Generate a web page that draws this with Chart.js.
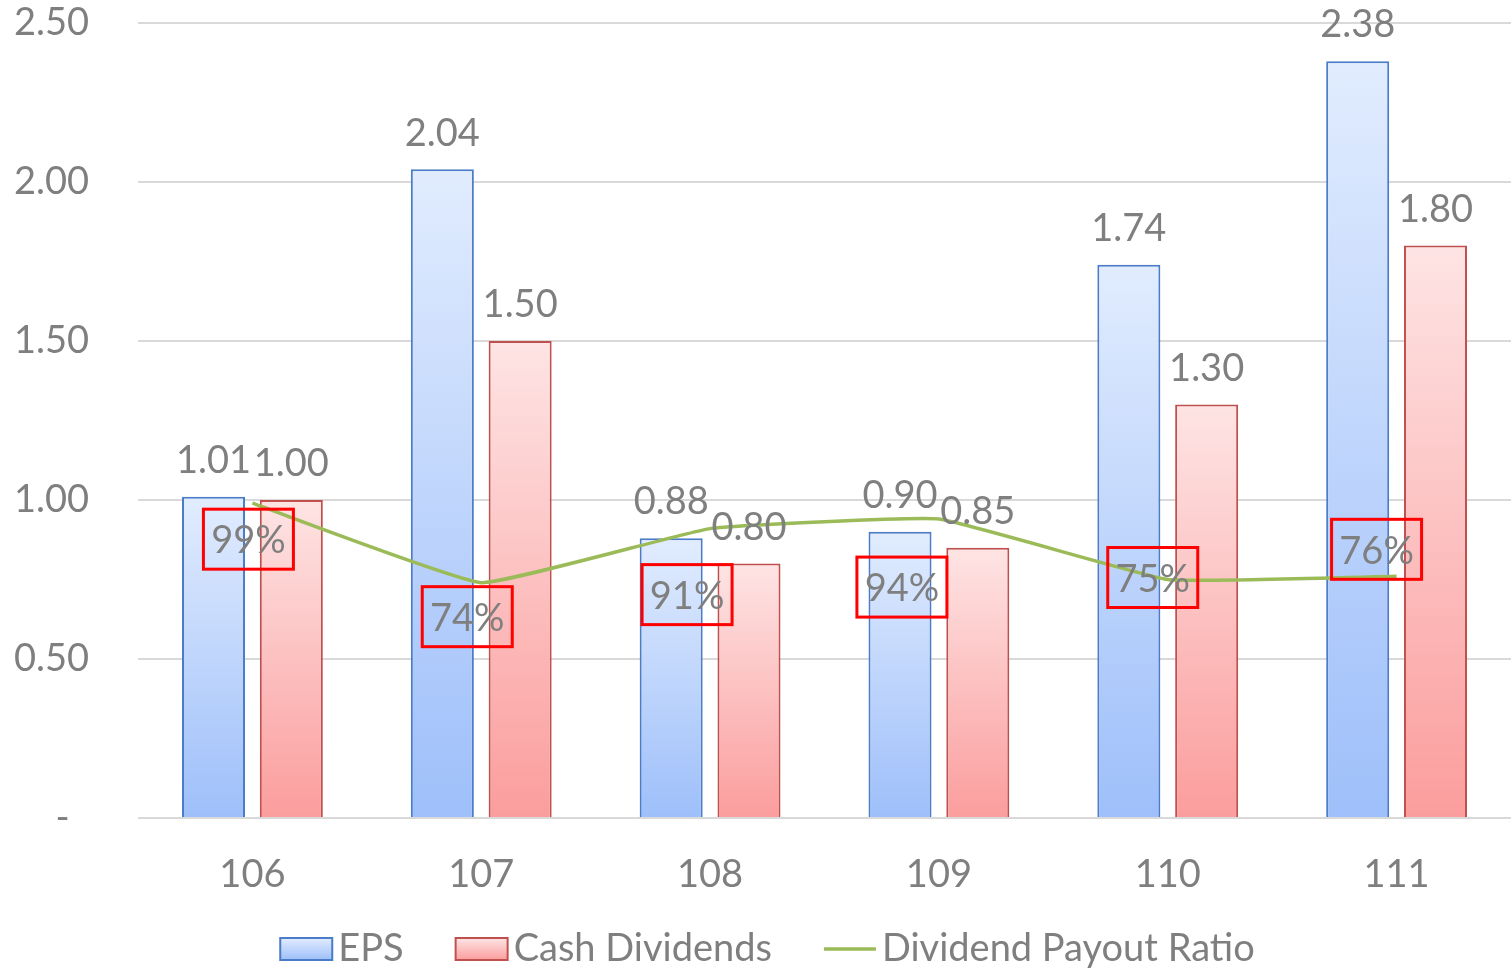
<!DOCTYPE html>
<html>
<head>
<meta charset="utf-8">
<script src="https://cdn.jsdelivr.net/npm/chart.js@4.4.1/dist/chart.umd.min.js"></script>
<style>
  html, body { margin: 0; padding: 0; background: #fff; }
  #wrap { width: 1511px; height: 968px; position: relative; }
</style>
</head>
<body>
<div id="wrap"><canvas id="chart"></canvas></div>
<script>
const years = ['106', '107', '108', '109', '110', '111'];
const eps = [1.01, 2.04, 0.88, 0.90, 1.74, 2.38];
const cashDividends = [1.00, 1.50, 0.80, 0.85, 1.30, 1.80];
const payoutRatio = [0.99, 0.74, 0.91, 0.94, 0.75, 0.76];
const yTicks = [0, 0.5, 1.0, 1.5, 2.0, 2.5];

// where each red ratio box sits relative to its line point (px)
const ratioBoxShift = [[-4, 36], [-14, 34], [-23, 66], [-37, 68], [-15, -2], [-20, -27]];

const FONT = 'Lato, "Open Sans", sans-serif';
const GREY = '#7f7f7f';
const blue = { line: '#4a7cc7', top: '#e1ecfe', bottom: '#9ebffa' };
const red = { line: '#c0504d', top: '#fee4e4', bottom: '#fb9d9d' };
const green = '#9bbb59';

Chart.defaults.font.family = FONT;

function barFill(colors) {
  return (c) => {
    const chart = c.chart;
    if (c.type !== 'data' || !chart.chartArea) return colors.bottom;
    const y = chart.scales.y;
    const top = y.getPixelForValue(c.raw);
    const base = y.getPixelForValue(0);
    const g = chart.ctx.createLinearGradient(0, top, 0, base);
    g.addColorStop(0, colors.top);
    g.addColorStop(1, colors.bottom);
    return g;
  };
}

const valueLabels = {
  id: 'valueLabels',
  afterDatasetsDraw(chart) {
    const ctx = chart.ctx;
    ctx.save();
    ctx.font = '38px ' + FONT;
    ctx.fillStyle = GREY;
    ctx.textAlign = 'center';
    ctx.textBaseline = 'middle';
    chart.data.datasets.forEach((ds, i) => {
      const meta = chart.getDatasetMeta(i);
      if (ds.type === 'line') {
        meta.data.forEach((pt, j) => {
          const [dx, dy] = ratioBoxShift[j];
          const cx = pt.x + dx;
          const cy = pt.y + dy;
          ctx.strokeStyle = '#ff0000';
          ctx.lineWidth = 3;
          ctx.strokeRect(cx - 45, cy - 30, 90, 60);
          ctx.fillText(Math.round(ds.data[j] * 100) + '%', cx, cy + 2);
        });
      } else {
        meta.data.forEach((bar, j) => {
          ctx.fillText(ds.data[j].toFixed(2), bar.x, bar.y - 36);
        });
      }
    });
    ctx.restore();
  }
};

const bottomLegend = {
  id: 'bottomLegend',
  afterDraw(chart) {
    const ctx = chart.ctx;
    ctx.save();
    ctx.font = '38px ' + FONT;
    const keyW = 52, keyGap = 6, itemGap = 52;
    const items = chart.data.datasets.map(ds => ({
      ds,
      w: keyW + keyGap + ctx.measureText(ds.label).width
    }));
    const total = items.reduce((s, it) => s + it.w, 0) + itemGap * (items.length - 1);
    let x = chart.width / 2 + 12 - total / 2;
    const cy = chart.height - 19;
    items.forEach(({ ds }) => {
      if (ds.type === 'line') {
        ctx.strokeStyle = ds.borderColor;
        ctx.lineWidth = 3.5;
        ctx.beginPath();
        ctx.moveTo(x, cy);
        ctx.lineTo(x + keyW, cy);
        ctx.stroke();
      } else {
        const colors = ds.label === 'EPS' ? blue : red;
        const g = ctx.createLinearGradient(0, cy - 11, 0, cy + 11);
        g.addColorStop(0, colors.top);
        g.addColorStop(1, colors.bottom);
        ctx.fillStyle = g;
        ctx.fillRect(x, cy - 11, keyW, 22);
        ctx.strokeStyle = colors.line;
        ctx.lineWidth = 2;
        ctx.strokeRect(x, cy - 11, keyW, 22);
      }
      ctx.fillStyle = GREY;
      ctx.textAlign = 'left';
      ctx.textBaseline = 'middle';
      ctx.fillText(ds.label, x + keyW + keyGap, cy);
      x += keyW + keyGap + ctx.measureText(ds.label).width + itemGap;
    });
    ctx.restore();
  }
};

new Chart(document.getElementById('chart'), {
  data: {
    labels: years,
    datasets: [
      {
        type: 'bar',
        label: 'EPS',
        data: eps,
        backgroundColor: barFill(blue),
        borderColor: blue.line,
        borderWidth: 2,
        order: 1
      },
      {
        type: 'bar',
        label: 'Cash Dividends',
        data: cashDividends,
        backgroundColor: barFill(red),
        borderColor: red.line,
        borderWidth: 2,
        order: 1
      },
      {
        type: 'line',
        label: 'Dividend Payout Ratio',
        data: payoutRatio,
        borderColor: green,
        borderWidth: 3.5,
        pointRadius: 0,
        tension: 0.1,
        order: 0
      }
    ]
  },
  options: {
    responsive: true,
    maintainAspectRatio: false,
    animation: false,
    layout: { padding: { top: 23, right: 0, bottom: 70, left: 0 } },
    datasets: {
      bar: { categoryPercentage: 0.68, barPercentage: 0.81 }
    },
    plugins: {
      legend: { display: false },
      tooltip: { enabled: false }
    },
    scales: {
      x: {
        grid: { display: false },
        border: { display: false },
        ticks: { color: GREY, font: { size: 38 }, padding: 26 },
        afterFit: (s) => { s.height = 80; }
      },
      y: {
        min: 0,
        max: 2.5,
        afterBuildTicks: (s) => { s.ticks = yTicks.map(v => ({ value: v })); },
        grid: { color: '#d9d9d9', lineWidth: 2, drawTicks: false },
        border: { display: false },
        ticks: {
          color: GREY,
          font: { size: 38 },
          padding: 49,
          callback: (v) => (v === 0 ? '-  ' : v.toFixed(2))
        },
        afterFit: (s) => {
          s.width = 138;
          // the label gap is horizontal only; keep it out of the top/bottom padding
          s.paddingTop = 20;
          s.paddingBottom = 20;
        }
      }
    }
  },
  plugins: [valueLabels, bottomLegend]
});
</script>
</body>
</html>
